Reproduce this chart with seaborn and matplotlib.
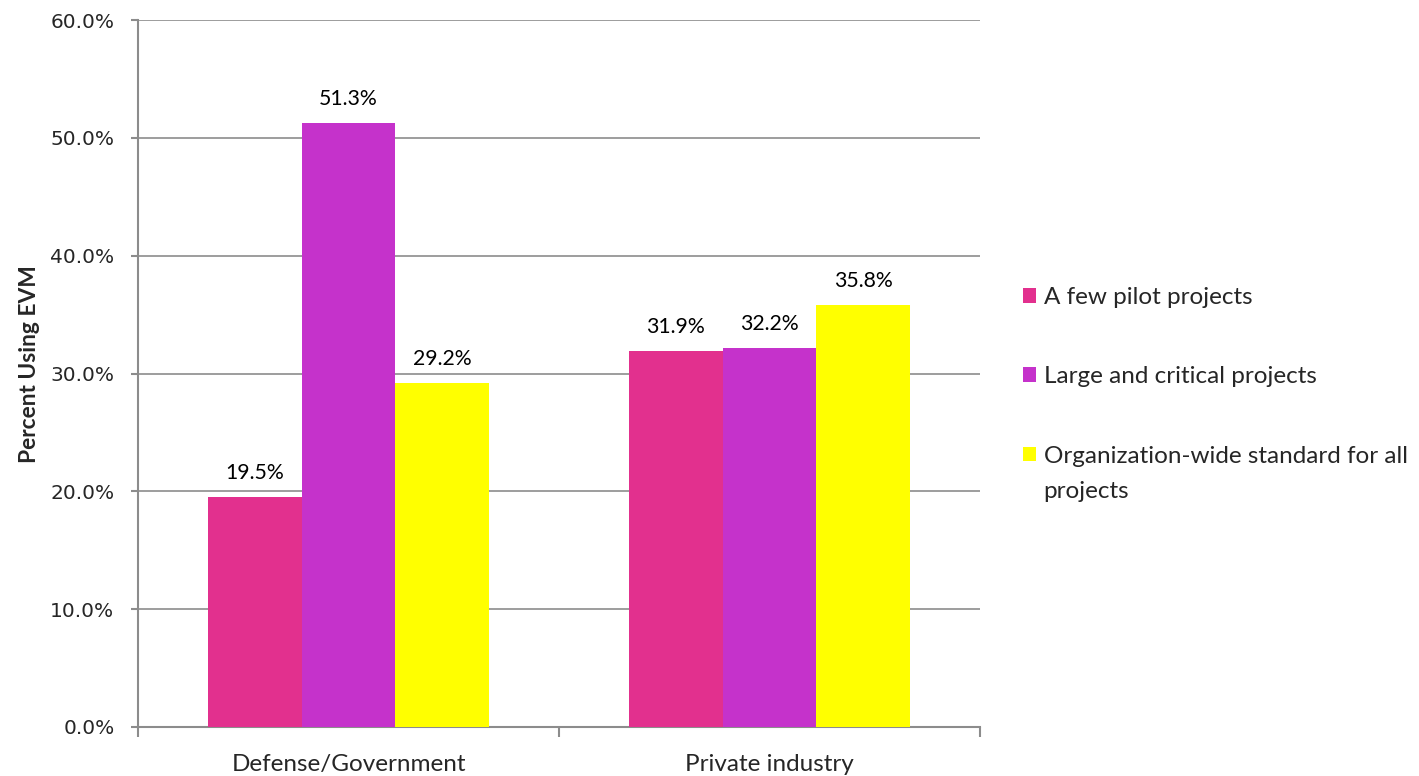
import matplotlib
matplotlib.use("Agg")
import matplotlib.pyplot as plt
import seaborn as sns
import pandas as pd
from matplotlib.ticker import FixedLocator, PercentFormatter

sectors = ["Defense/Government", "Private industry"]
usage_levels = ["A few pilot projects", "Large and critical projects",
                "Organization-wide standard for all projects"]
pilot = [19.5, 31.9]
large_critical = [51.3, 32.2]
org_wide = [29.2, 35.8]
colors = ["#E2308E", "#C532CB", "#FFFF00"]

rows = []
for level, vals in zip(usage_levels, [pilot, large_critical, org_wide]):
    for s, v in zip(sectors, vals):
        rows.append({"Sector": s, "Usage": level, "Percent": v})
df = pd.DataFrame(rows)

sns.set_theme(style="white")
plt.rcParams["font.family"] = ["Lato", "DejaVu Sans"]

W, H = 1419, 776
fig = plt.figure(figsize=(W / 100, H / 100), dpi=100)
ax = fig.add_axes([138 / W, 1 - 727 / H, (980 - 138) / W, (727 - 20) / H])

sns.barplot(data=df, x="Sector", y="Percent", hue="Usage", order=sectors,
            hue_order=usage_levels, palette=colors, width=0.667,
            saturation=1, linewidth=0, ax=ax, zorder=3, legend=True)

for cont in ax.containers:
    ax.bar_label(cont, labels=[f"{v:.1f}%" for v in cont.datavalues],
                 padding=10, fontsize=15.3, color="black")

ax.set_ylim(0, 60)
ax.set_xlim(-0.5, 1.5)
ax.yaxis.set_major_locator(FixedLocator(range(0, 61, 10)))
ax.yaxis.set_major_formatter(PercentFormatter(decimals=1))
ax.grid(axis="y", color="#8C8C8C", linewidth=1.2, zorder=0)
ax.set_axisbelow(True)

for side in ["top", "right"]:
    ax.spines[side].set_visible(False)
for side in ["left", "bottom"]:
    ax.spines[side].set_color("#8C8C8C")
    ax.spines[side].set_linewidth(1.5)

# category labels centred, tick marks on category boundaries
ax.set_xticks([0, 1])
ax.set_xticklabels(sectors, fontsize=17.5)
ax.tick_params(axis="x", length=0, pad=19.5)
ax.set_xticks([-0.5, 0.5, 1.5], minor=True)
ax.tick_params(axis="x", which="minor", length=7, width=1.5, color="#8C8C8C",
               direction="out", bottom=True)
ax.tick_params(axis="y", length=5, width=1.5, color="#8C8C8C", direction="out",
               left=True, pad=12)
for t in ax.get_yticklabels():
    t.set_fontfamily("DejaVu Sans")
    t.set_fontsize(14.5)

ax.set_xlabel("")
ax.set_ylabel("Percent Using EVM", fontsize=16.4, fontweight="bold")
ax.yaxis.set_label_coords((40 - 138) / 842, (727 - 364.5) / 707)

handles, labels = ax.get_legend_handles_labels()
ax.get_legend().remove()
legend_labels = ["A few pilot projects", "Large and critical projects",
                 "Organization-wide standard for all"]
leg = fig.legend(handles, legend_labels, loc="upper left",
                 bbox_to_anchor=(1023 / W, 1 - 287 / H),
                 frameon=False, fontsize=17.5, handlelength=0.55, handleheight=0.55,
                 handletextpad=0.3, labelspacing=2.4, borderaxespad=0, borderpad=0)

# wrapped continuation of the last legend entry
fig.canvas.draw()
bb = leg.get_texts()[2].get_window_extent()
fig.text(bb.x0 / W, (bb.y0 - 35) / H, "projects", fontsize=17.5, va="bottom", ha="left")

fig.savefig("out.png", dpi=100)
